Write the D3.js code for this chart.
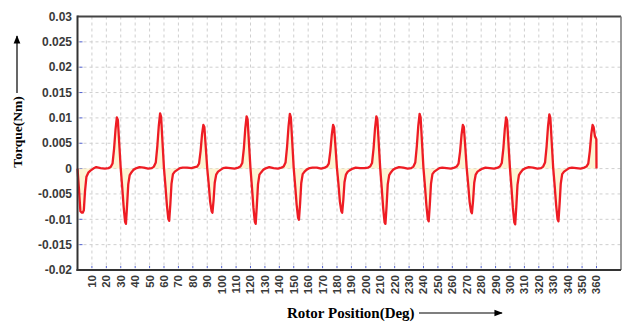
<!DOCTYPE html>
<html>
  <head>
    <meta charset="utf-8" />
    <title>Torque vs Rotor Position</title>
    <script src="https://d3js.org/d3.v7.min.js"></script>
    <style>
        body { margin:0; background:#fff; }
        text { font-family: "Liberation Sans", Arial, sans-serif; }
    </style>
  </head>
  <body>
    <svg id="viz"></svg>

    <script>

        // rotor position (deg), one row per 30 deg cycle
        var position = [
          0,1,2,3,3.6,4.4,5.2,6.2,7.5,9,11,13,16,19,21.5,23,24.3,25.4,26.4,27.3,28,28.9,
          30,31,32,33,33.6,34.4,35.2,36.2,37.5,39,41,43,46,49,51.5,53,54.3,55.4,56.4,57.3,58,58.9,
          60,61,62,63,63.6,64.4,65.2,66.2,67.5,69,71,73,76,79,81.5,83,84.3,85.4,86.4,87.3,88,88.9,
          90,91,92,93,93.6,94.4,95.2,96.2,97.5,99,101,103,106,109,111.5,113,114.3,115.4,116.4,117.3,118,118.9,
          120,121,122,123,123.6,124.4,125.2,126.2,127.5,129,131,133,136,139,141.5,143,144.3,145.4,146.4,147.3,148,148.9,
          150,151,152,153,153.6,154.4,155.2,156.2,157.5,159,161,163,166,169,171.5,173,174.3,175.4,176.4,177.3,178,178.9,
          180,181,182,183,183.6,184.4,185.2,186.2,187.5,189,191,193,196,199,201.5,203,204.3,205.4,206.4,207.3,208,208.9,
          210,211,212,213,213.6,214.4,215.2,216.2,217.5,219,221,223,226,229,231.5,233,234.3,235.4,236.4,237.3,238,238.9,
          240,241,242,243,243.6,244.4,245.2,246.2,247.5,249,251,253,256,259,261.5,263,264.3,265.4,266.4,267.3,268,268.9,
          270,271,272,273,273.6,274.4,275.2,276.2,277.5,279,281,283,286,289,291.5,293,294.3,295.4,296.4,297.3,298,298.9,
          300,301,302,303,303.6,304.4,305.2,306.2,307.5,309,311,313,316,319,321.5,323,324.3,325.4,326.4,327.3,328,328.9,
          330,331,332,333,333.6,334.4,335.2,336.2,337.5,339,341,343,346,349,351.5,353,354.3,355.4,356.4,357.3,358,358.9,359.9,360
        ];

        // torque (Nm)
        var torque = [
          0,-0.0040,-0.0084,-0.0087,-0.0087,-0.0082,-0.0045,-0.0016,-0.0008,-0.0004,0.0000,0.0003,0.0001,0.0000,0.0001,0.0003,0.0010,0.0040,0.0078,0.0101,0.0096,0.0052,
          0,-0.0036,-0.0075,-0.0105,-0.0109,-0.0072,-0.0031,-0.0013,-0.0007,-0.0002,0.0001,0.0003,0.0002,0.0000,0.0001,0.0004,0.0012,0.0045,0.0085,0.0109,0.0102,0.0055,
          0,-0.0034,-0.0072,-0.0099,-0.0103,-0.0070,-0.0030,-0.0011,-0.0006,-0.0003,0.0001,0.0002,0.0002,0.0001,0.0003,0.0004,0.0010,0.0035,0.0068,0.0086,0.0082,0.0045,
          0,-0.0030,-0.0065,-0.0084,-0.0087,-0.0062,-0.0028,-0.0012,-0.0006,-0.0003,0.0001,0.0002,0.0001,0.0000,0.0002,0.0004,0.0011,0.0040,0.0080,0.0103,0.0097,0.0052,
          0,-0.0036,-0.0076,-0.0105,-0.0109,-0.0073,-0.0031,-0.0012,-0.0007,-0.0002,0.0001,0.0003,0.0001,0.0000,0.0002,0.0004,0.0012,0.0044,0.0084,0.0108,0.0101,0.0055,
          0,-0.0034,-0.0071,-0.0097,-0.0101,-0.0069,-0.0029,-0.0011,-0.0006,-0.0002,0.0001,0.0002,0.0002,0.0000,0.0002,0.0004,0.0010,0.0035,0.0067,0.0086,0.0081,0.0045,
          0,-0.0030,-0.0065,-0.0084,-0.0087,-0.0061,-0.0027,-0.0012,-0.0006,-0.0003,0.0000,0.0002,0.0001,0.0001,0.0002,0.0004,0.0011,0.0041,0.0080,0.0103,0.0097,0.0053,
          0,-0.0037,-0.0077,-0.0106,-0.0109,-0.0074,-0.0031,-0.0013,-0.0007,-0.0002,0.0001,0.0003,0.0002,0.0000,0.0001,0.0004,0.0012,0.0045,0.0085,0.0108,0.0101,0.0055,
          0,-0.0034,-0.0072,-0.0100,-0.0104,-0.0070,-0.0030,-0.0011,-0.0006,-0.0003,0.0001,0.0002,0.0001,0.0000,0.0002,0.0004,0.0010,0.0034,0.0067,0.0086,0.0082,0.0046,
          0,-0.0031,-0.0066,-0.0085,-0.0088,-0.0063,-0.0028,-0.0012,-0.0006,-0.0003,0.0000,0.0002,0.0001,0.0000,0.0002,0.0004,0.0011,0.0040,0.0078,0.0101,0.0095,0.0051,
          0,-0.0037,-0.0077,-0.0106,-0.0110,-0.0074,-0.0032,-0.0013,-0.0007,-0.0002,0.0001,0.0003,0.0002,0.0000,0.0001,0.0004,0.0012,0.0044,0.0084,0.0107,0.0100,0.0054,
          0,-0.0034,-0.0072,-0.0100,-0.0104,-0.0070,-0.0030,-0.0011,-0.0006,-0.0003,0.0001,0.0002,0.0001,0.0000,0.0002,0.0004,0.0010,0.0035,0.0068,0.0086,0.0082,0.0064,0.0058,0
        ];

        var xTicks = [10,20,30,40,50,60,70,80,90,100,110,120,130,140,150,160,170,180,
                      190,200,210,220,230,240,250,260,270,280,290,300,310,320,330,340,350,360];
        var yTicks = [-0.02,-0.015,-0.01,-0.005,0,0.005,0.01,0.015,0.02,0.025,0.03];
        var yTickLabels = ["-0.02","-0.015","-0.01","-0.005","0","0.005","0.01","0.015","0.02","0.025","0.03"];

        var width = 627, height = 322;
        var plotLeft = 77.5, plotRight = 621, plotTop = 16.5, plotBottom = 270;

        var svg = d3.select("#viz")
          .attr("width", width)
          .attr("height", height);

        var x = d3.scaleLinear().domain([0, 377]).range([plotLeft, plotRight]);
        var y = d3.scaleLinear().domain([-0.02, 0.03]).range([plotBottom, plotTop]);

        var data = position.map(function (d, i) { return [d, torque[i]]; });

        // dashed grid
        var grid = svg.append("g");
        grid.selectAll("line.h").data(yTicks.slice(1, -1)).enter()
          .append("line")
          .attr("x1", plotLeft).attr("x2", plotRight)
          .attr("y1", function (d) { return y(d); })
          .attr("y2", function (d) { return y(d); })
          .attr("stroke", "#cfcfcf").attr("stroke-dasharray", "3,3");
        grid.selectAll("line.v").data(xTicks).enter()
          .append("line")
          .attr("x1", function (d) { return x(d); })
          .attr("x2", function (d) { return x(d); })
          .attr("y1", plotTop).attr("y2", plotBottom)
          .attr("stroke", "#cfcfcf").attr("stroke-dasharray", "3,3");

        // small blue tick marks inside the frame
        svg.append("g").selectAll("line").data(yTicks.slice(1, -1)).enter()
          .append("line")
          .attr("x1", plotLeft + 2).attr("x2", plotLeft + 5)
          .attr("y1", function (d) { return y(d); })
          .attr("y2", function (d) { return y(d); })
          .attr("stroke", "#5060d0").attr("stroke-width", 1);
        svg.append("g").selectAll("line").data(xTicks).enter()
          .append("line")
          .attr("x1", function (d) { return x(d); })
          .attr("x2", function (d) { return x(d); })
          .attr("y1", plotBottom - 4).attr("y2", plotBottom - 2)
          .attr("stroke", "#5060d0").attr("stroke-width", 1);

        // pale fill between curve and zero
        var area = d3.area()
          .x(function (d) { return x(d[0]); })
          .y0(y(0))
          .y1(function (d) { return y(d[1]); });
        svg.append("path").datum(data)
          .attr("d", area)
          .attr("fill", "#fcf0c0")
          .attr("opacity", 0.7);

        var line = d3.line()
          .x(function (d) { return x(d[0]); })
          .y(function (d) { return y(d[1]); });
        svg.append("path").datum(data)
          .attr("d", line)
          .attr("fill", "none")
          .attr("stroke", "#ee1c24")
          .attr("stroke-width", 2.3)
          .attr("stroke-linejoin", "round");

        // frame
        svg.append("line").attr("x1", plotLeft).attr("x2", plotRight).attr("y1", plotTop).attr("y2", plotTop)
          .attr("stroke", "#444").attr("stroke-width", 2);
        svg.append("line").attr("x1", plotRight).attr("x2", plotRight).attr("y1", plotTop).attr("y2", plotBottom)
          .attr("stroke", "#777").attr("stroke-width", 1.5);
        svg.append("line").attr("x1", plotLeft).attr("x2", plotLeft).attr("y1", plotTop - 1).attr("y2", plotBottom + 1)
          .attr("stroke", "#333").attr("stroke-width", 2);
        svg.append("line").attr("x1", plotLeft - 1).attr("x2", plotRight).attr("y1", plotBottom).attr("y2", plotBottom)
          .attr("stroke", "#333").attr("stroke-width", 2);

        // y tick labels
        svg.append("g").selectAll("text").data(yTicks).enter()
          .append("text")
          .attr("x", 72)
          .attr("y", function (d) { return y(d); })
          .attr("dy", "0.35em")
          .attr("text-anchor", "end")
          .attr("font-size", 12)
          .attr("font-weight", "bold")
          .attr("fill", "#3a3a3a")
          .text(function (d, i) { return yTickLabels[i]; });

        // x tick labels, rotated
        svg.append("g").selectAll("text").data(xTicks).enter()
          .append("text")
          .attr("transform", function (d) { return "translate(" + (x(d) + 4) + "," + (plotBottom + 5) + ") rotate(-90)"; })
          .attr("text-anchor", "end")
          .attr("font-size", 11.5)
          .attr("font-weight", "bold")
          .attr("fill", "#3a3a3a")
          .text(function (d) { return d; });

        // axis titles with arrows
        svg.append("defs").append("marker")
          .attr("id", "arrow")
          .attr("viewBox", "0 0 10 10")
          .attr("refX", 9).attr("refY", 5)
          .attr("markerWidth", 7).attr("markerHeight", 7)
          .attr("orient", "auto")
          .append("path").attr("d", "M0,1 L10,5 L0,9 Z").attr("fill", "#000");

        svg.append("text")
          .attr("transform", "translate(22,132) rotate(-90)")
          .attr("text-anchor", "middle")
          .style("font-family", "'Liberation Serif', 'Times New Roman', serif")
          .attr("font-weight", "bold")
          .attr("font-size", 13.5)
          .text("Torque(Nm)");
        svg.append("line")
          .attr("x1", 17).attr("x2", 17).attr("y1", 93).attr("y2", 36)
          .attr("stroke", "#000").attr("stroke-width", 1.2)
          .attr("marker-end", "url(#arrow)");

        svg.append("text")
          .attr("x", 287).attr("y", 318)
          .style("font-family", "'Liberation Serif', 'Times New Roman', serif")
          .attr("font-weight", "bold")
          .attr("font-size", 15)
          .text("Rotor Position(Deg)");
        svg.append("line")
          .attr("x1", 419).attr("x2", 502).attr("y1", 313).attr("y2", 313)
          .attr("stroke", "#000").attr("stroke-width", 1.2)
          .attr("marker-end", "url(#arrow)");

    </script>
  </body>
</html>
